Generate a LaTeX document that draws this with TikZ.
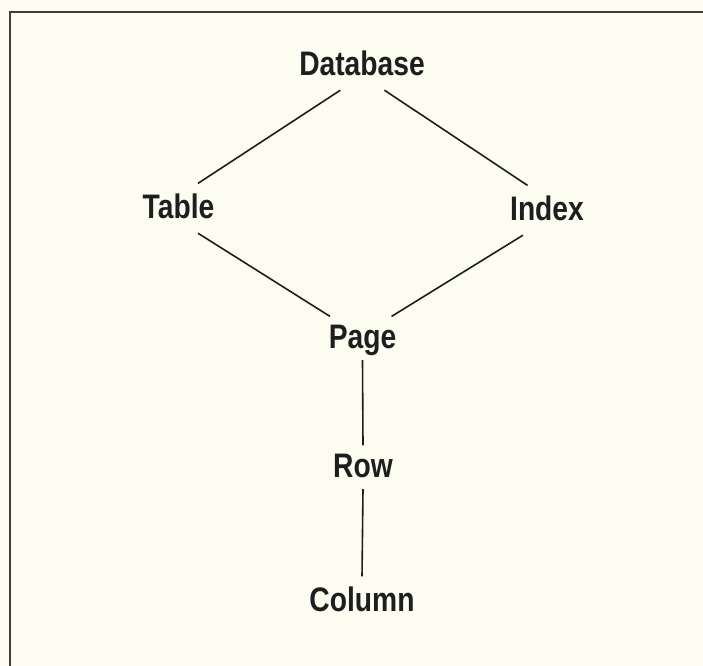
\documentclass[tikz,border=0pt]{standalone}
\usepackage{fontspec}
\newfontfamily\labelfont[FakeStretch=0.83]{Liberation Sans}
\usepackage{tikz}
\usetikzlibrary{positioning}
\definecolor{paper}{HTML}{FDFCF1}
\definecolor{ink}{HTML}{1E1E1E}

\begin{document}
\begin{tikzpicture}[x=1pt, y=-1pt,
		term/.style={font=\labelfont\bfseries\fontsize{34}{40}\selectfont, text=ink, anchor=base,
			text height=23.4pt, text depth=4pt, inner xsep=2pt, inner ysep=11pt},
		link/.style={draw=ink, line width=1.6pt}]
		% page and frame
		\useasboundingbox (0,0) rectangle (703,665);
		\fill[paper] (-3,-3) rectangle (706,668);
		\draw[line width=2pt, draw=ink!85] (706,12) -- (10,12) -- (10,668);
		
		% the levels
		\node[term] (db) at (362,75) {Database};
		\node[term] (tab) at (178.5,218) {Table};
		\node[term] (idx) at (547,220) {Index};
		\node[term, inner ysep=8pt] (pg) at (362.5,348) {Page};
		\node[term, inner ysep=8pt] (row) at (363,477) {Row};
		\node[term] (col) at (362,611) {Column};
		
		% Database to Table and Index
		\draw[link] (db.229) -- (tab.52);
		\draw[link] (db.-48) -- (idx.128);
		
		% Table and Index to Page
		\draw[link] (tab.-52) -- (pg.146);
		\draw[link] (idx.226) -- (pg.37);
		
		% Page, Row, Column
		\draw[link] (pg.south) -- (row.north);
		\draw[link] (row.south) -- (col.north);
		
	\end{tikzpicture}
\end{document}
